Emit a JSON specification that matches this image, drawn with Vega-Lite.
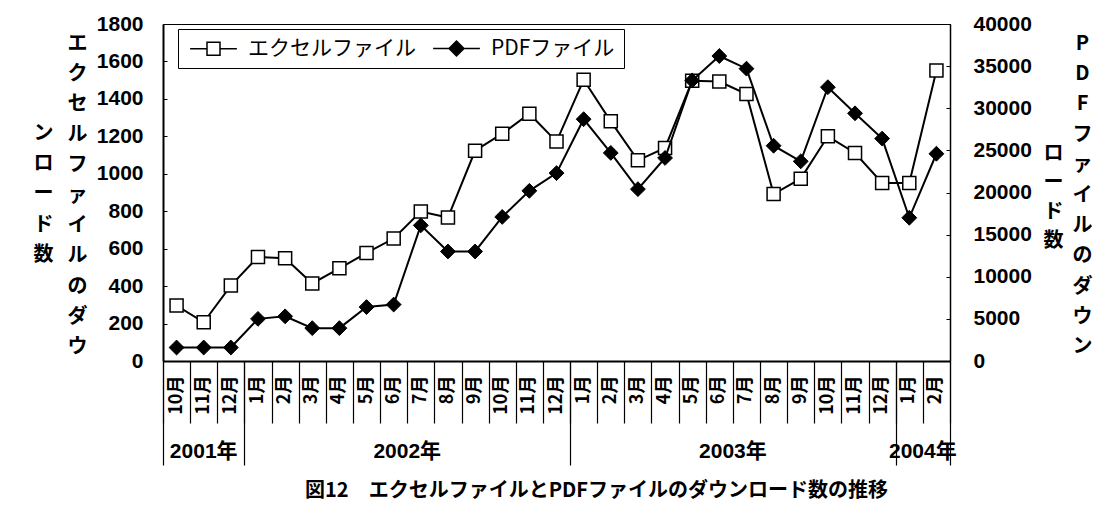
{
  "$schema": "https://vega.github.io/schema/vega-lite/v6.json",
  "autosize": {"type": "none"},
  "padding": {"left": 163, "top": 24, "right": 169, "bottom": 147},
  "width": 787,
  "height": 337,
  "background": "white",
  "config": {
    "view": {"stroke": "black", "strokeWidth": 1},
    "font": "Noto Sans CJK JP",
    "axis": {"grid": false}
  },
  "title": {
    "text": "図12　エクセルファイルとPDFファイルのダウンロード数の推移",
    "orient": "bottom",
    "anchor": "middle",
    "frame": "group",
    "offset": 15,
    "dx": 40,
    "font": "Noto Sans CJK JP",
    "fontSize": 20,
    "fontWeight": "bold",
    "color": "black",
    "baseline": "top"
  },
  "data": {
    "values": [
      {"month": "2001-10", "series": "エクセルファイル", "value": 296},
      {"month": "2001-11", "series": "エクセルファイル", "value": 207},
      {"month": "2001-12", "series": "エクセルファイル", "value": 403},
      {"month": "2002-01", "series": "エクセルファイル", "value": 556},
      {"month": "2002-02", "series": "エクセルファイル", "value": 549},
      {"month": "2002-03", "series": "エクセルファイル", "value": 414},
      {"month": "2002-04", "series": "エクセルファイル", "value": 495},
      {"month": "2002-05", "series": "エクセルファイル", "value": 577},
      {"month": "2002-06", "series": "エクセルファイル", "value": 654},
      {"month": "2002-07", "series": "エクセルファイル", "value": 798},
      {"month": "2002-08", "series": "エクセルファイル", "value": 766},
      {"month": "2002-09", "series": "エクセルファイル", "value": 1123},
      {"month": "2002-10", "series": "エクセルファイル", "value": 1214},
      {"month": "2002-11", "series": "エクセルファイル", "value": 1321},
      {"month": "2002-12", "series": "エクセルファイル", "value": 1172},
      {"month": "2003-01", "series": "エクセルファイル", "value": 1502},
      {"month": "2003-02", "series": "エクセルファイル", "value": 1280},
      {"month": "2003-03", "series": "エクセルファイル", "value": 1072},
      {"month": "2003-04", "series": "エクセルファイル", "value": 1138},
      {"month": "2003-05", "series": "エクセルファイル", "value": 1497},
      {"month": "2003-06", "series": "エクセルファイル", "value": 1493},
      {"month": "2003-07", "series": "エクセルファイル", "value": 1426},
      {"month": "2003-08", "series": "エクセルファイル", "value": 892},
      {"month": "2003-09", "series": "エクセルファイル", "value": 974},
      {"month": "2003-10", "series": "エクセルファイル", "value": 1200},
      {"month": "2003-11", "series": "エクセルファイル", "value": 1111},
      {"month": "2003-12", "series": "エクセルファイル", "value": 951},
      {"month": "2004-01", "series": "エクセルファイル", "value": 951},
      {"month": "2004-02", "series": "エクセルファイル", "value": 1552},
      {"month": "2001-10", "series": "PDFファイル", "value": 1600},
      {"month": "2001-11", "series": "PDFファイル", "value": 1600},
      {"month": "2001-12", "series": "PDFファイル", "value": 1600},
      {"month": "2002-01", "series": "PDFファイル", "value": 5000},
      {"month": "2002-02", "series": "PDFファイル", "value": 5300},
      {"month": "2002-03", "series": "PDFファイル", "value": 3900},
      {"month": "2002-04", "series": "PDFファイル", "value": 3900},
      {"month": "2002-05", "series": "PDFファイル", "value": 6400},
      {"month": "2002-06", "series": "PDFファイル", "value": 6700},
      {"month": "2002-07", "series": "PDFファイル", "value": 16100},
      {"month": "2002-08", "series": "PDFファイル", "value": 13000},
      {"month": "2002-09", "series": "PDFファイル", "value": 13000},
      {"month": "2002-10", "series": "PDFファイル", "value": 17100},
      {"month": "2002-11", "series": "PDFファイル", "value": 20200},
      {"month": "2002-12", "series": "PDFファイル", "value": 22300},
      {"month": "2003-01", "series": "PDFファイル", "value": 28700},
      {"month": "2003-02", "series": "PDFファイル", "value": 24700},
      {"month": "2003-03", "series": "PDFファイル", "value": 20400},
      {"month": "2003-04", "series": "PDFファイル", "value": 24100},
      {"month": "2003-05", "series": "PDFファイル", "value": 33300},
      {"month": "2003-06", "series": "PDFファイル", "value": 36200},
      {"month": "2003-07", "series": "PDFファイル", "value": 34700},
      {"month": "2003-08", "series": "PDFファイル", "value": 25550},
      {"month": "2003-09", "series": "PDFファイル", "value": 23700},
      {"month": "2003-10", "series": "PDFファイル", "value": 32500},
      {"month": "2003-11", "series": "PDFファイル", "value": 29400},
      {"month": "2003-12", "series": "PDFファイル", "value": 26400},
      {"month": "2004-01", "series": "PDFファイル", "value": 17000},
      {"month": "2004-02", "series": "PDFファイル", "value": 24600}
    ]
  },
  "layer": [
    {
      "resolve": {"scale": {"y": "shared"}, "axis": {"y": "independent", "x": "independent"}},
      "layer": [
        {
          "transform": [{"filter": {"field": "series", "equal": "エクセルファイル"}}],
          "mark": {"type": "line", "color": "black", "strokeWidth": 2},
          "encoding": {
            "x": {
              "field": "month", "type": "ordinal",
              "scale": {"type": "band", "paddingInner": 0, "paddingOuter": 0},
              "axis": {
                "title": null, "orient": "bottom", "ticks": false,
                "domain": true, "domainColor": "black", "domainWidth": 2,
                "labelAngle": -90, "labelAlign": "right", "labelBaseline": "middle",
                "labelPadding": 14,
                "labelExpr": "toNumber(slice(datum.value, 5)) + '月'",
                "labelFont": "Noto Sans CJK JP", "labelFontSize": 18, "labelFontWeight": "bold",
                "labelColor": "black", "labelOverlap": false, "labelFlush": false
              }
            },
            "y": {
              "field": "value", "type": "quantitative",
              "scale": {"domain": [0, 1800], "nice": false, "zero": true},
              "axis": {
                "orient": "left",
                "title": ["エ", "ク", "セ", "ル", "フ", "ァ", "イ", "ル", "の", "ダ", "ウ"],
                "titleAngle": 0, "titleAlign": "center", "titleBaseline": "middle",
                "titleX": -86, "titleY": 19, "titleLineHeight": 30.4,
                "titleFont": "Noto Sans CJK JP", "titleFontSize": 20, "titleFontWeight": "bold", "titleColor": "black",
                "values": [0, 200, 400, 600, 800, 1000, 1200, 1400, 1600, 1800],
                "format": "d",
                "tickSize": -4, "tickColor": "black", "tickWidth": 1,
                "labelPadding": 24, "labelFont": "Liberation Sans", "labelFontSize": 21, "labelFontWeight": "bold",
                "labelColor": "black", "labelOverlap": false, "labelFlush": false,
                "domainColor": "black", "domainWidth": 2
              }
            }
          }
        },
        {
          "transform": [{"filter": {"field": "series", "equal": "エクセルファイル"}}],
          "mark": {"type": "point", "shape": "square", "filled": true, "fill": "white", "stroke": "black", "strokeWidth": 1.5, "size": 170, "opacity": 1},
          "encoding": {
            "x": {
              "field": "month", "type": "ordinal",
              "scale": {"type": "band", "paddingInner": 0, "paddingOuter": 0},
              "axis": {
                "title": null, "orient": "bottom", "labels": false, "domain": false,
                "ticks": true, "tickBand": "extent", "tickColor": "black", "tickWidth": 1.2,
                "tickSize": 62
              }
            },
            "y": {
              "field": "value", "type": "quantitative",
              "scale": {"domain": [0, 1800], "nice": false, "zero": true},
              "axis": {
                "orient": "left",
                "title": ["ン", "ロ", "ー", "ド", "数"],
                "titleAngle": 0, "titleAlign": "center", "titleBaseline": "middle",
                "titleX": -120, "titleY": 109, "titleLineHeight": 30.4,
                "titleFont": "Noto Sans CJK JP", "titleFontSize": 20, "titleFontWeight": "bold", "titleColor": "black",
                "labels": false, "ticks": false, "domain": false
              }
            }
          }
        }
      ]
    },
    {
      "resolve": {"scale": {"y": "shared"}, "axis": {"y": "independent", "x": "independent"}},
      "layer": [
        {
          "transform": [{"filter": {"field": "series", "equal": "PDFファイル"}}],
          "mark": {"type": "line", "color": "black", "strokeWidth": 2},
          "encoding": {
            "x": {
              "field": "month", "type": "ordinal",
              "scale": {"type": "band", "paddingInner": 0, "paddingOuter": 0},
              "axis": {
                "title": null, "orient": "bottom", "ticks": false, "domain": false,
                "values": ["2001-11", "2002-07", "2003-07", "2004-02"],
                "labelExpr": "slice(datum.value, 0, 4) + '年'",
                "labelAngle": 0, "labelAlign": "center", "labelBaseline": "top",
                "labelPadding": 79,
                "labelOffset": {"condition": {"test": "datum.value == '2001-11'", "value": 0}, "value": -13.57},
                "labelFont": "Liberation Sans, Noto Sans CJK JP", "labelFontSize": 21, "labelFontWeight": "bold",
                "labelColor": "black", "labelOverlap": false, "labelFlush": false
              }
            },
            "y": {
              "field": "value", "type": "quantitative",
              "scale": {"domain": [0, 40000], "nice": false, "zero": true},
              "axis": {
                "orient": "right",
                "title": ["P", "D", "F", "フ", "ァ", "イ", "ル", "の", "ダ", "ウ", "ン"],
                "titleAngle": 0, "titleAlign": "center", "titleBaseline": "middle",
                "titleX": 132, "titleY": 19, "titleLineHeight": 30.4,
                "titleFont": "Noto Sans CJK JP", "titleFontSize": 20, "titleFontWeight": "bold", "titleColor": "black",
                "values": [0, 5000, 10000, 15000, 20000, 25000, 30000, 35000, 40000],
                "format": "d",
                "tickSize": -4, "tickColor": "black", "tickWidth": 1,
                "labelPadding": 27, "labelFont": "Liberation Sans", "labelFontSize": 21, "labelFontWeight": "bold",
                "labelColor": "black", "labelOverlap": false, "labelFlush": false,
                "domainColor": "black", "domainWidth": 1.5
              }
            }
          }
        },
        {
          "transform": [{"filter": {"field": "series", "equal": "PDFファイル"}}],
          "mark": {"type": "point", "shape": "diamond", "filled": true, "fill": "black", "stroke": "black", "strokeWidth": 1, "size": 220, "opacity": 1},
          "encoding": {
            "x": {
              "field": "month", "type": "ordinal",
              "scale": {"type": "band", "paddingInner": 0, "paddingOuter": 0},
              "axis": {
                "title": null, "orient": "bottom", "labels": false, "domain": false,
                "ticks": true, "tickBand": "extent", "tickColor": "black", "tickWidth": 1.2,
                "tickSize": 104,
                "tickOpacity": {"condition": {"test": "!datum.value || indexof(['2001-12','2002-12','2003-12','2004-02'], datum.value) >= 0", "value": 1}, "value": 0}
              }
            },
            "y": {
              "field": "value", "type": "quantitative",
              "scale": {"domain": [0, 40000], "nice": false, "zero": true},
              "axis": {
                "orient": "right",
                "title": ["ロ", "ー", "ド", "数"],
                "titleAngle": 0, "titleAlign": "center", "titleBaseline": "middle",
                "titleX": 103, "titleY": 129, "titleLineHeight": 29,
                "titleFont": "Noto Sans CJK JP", "titleFontSize": 20, "titleFontWeight": "bold", "titleColor": "black",
                "labels": false, "ticks": false, "domain": false
              }
            }
          }
        }
      ]
    },
    {
      "mark": {"type": "point", "filled": true, "strokeWidth": 1.5, "size": 169, "opacity": 0},
      "encoding": {
        "x": {
          "field": "month", "type": "ordinal",
          "scale": {"type": "band", "paddingInner": 0, "paddingOuter": 0},
          "axis": null
        },
        "shape": {
          "field": "series", "type": "nominal",
          "scale": {"domain": ["エクセルファイル", "PDFファイル"], "range": ["M-3.6,0H-1M1,0H3.6M-1,-1H1V1H-1Z", "M-3.6,0H3.6M0,-1.15L1.15,0L0,1.15L-1.15,0Z"]},
          "legend": {
            "orient": "none", "legendX": 15, "legendY": 5, "direction": "horizontal",
            "title": null, "symbolSize": 169, "symbolStrokeWidth": 1.5,
            "symbolOpacity": 1, "symbolOffset": 16,
            "labelFont": "Noto Sans CJK JP", "labelFontSize": 21, "labelColor": "black",
            "labelLimit": 400, "labelOffset": 24, "columnPadding": 14, "padding": 9,
            "strokeColor": "black", "fillColor": "white"
          }
        },
        "fill": {
          "field": "series", "type": "nominal",
          "scale": {"domain": ["エクセルファイル", "PDFファイル"], "range": ["white", "black"]},
          "legend": {
            "orient": "none", "legendX": 15, "legendY": 5, "direction": "horizontal",
            "title": null, "symbolSize": 169, "symbolStrokeWidth": 1.5,
            "symbolOpacity": 1, "symbolOffset": 16,
            "labelFont": "Noto Sans CJK JP", "labelFontSize": 21, "labelColor": "black",
            "labelLimit": 400, "labelOffset": 24, "columnPadding": 14, "padding": 9,
            "strokeColor": "black", "fillColor": "white"
          }
        },
        "stroke": {
          "field": "series", "type": "nominal",
          "scale": {"domain": ["エクセルファイル", "PDFファイル"], "range": ["black", "black"]},
          "legend": {
            "orient": "none", "legendX": 15, "legendY": 5, "direction": "horizontal",
            "title": null, "symbolSize": 169, "symbolStrokeWidth": 1.5,
            "symbolOpacity": 1, "symbolOffset": 16,
            "labelFont": "Noto Sans CJK JP", "labelFontSize": 21, "labelColor": "black",
            "labelLimit": 400, "labelOffset": 24, "columnPadding": 14, "padding": 9,
            "strokeColor": "black", "fillColor": "white"
          }
        }
      }
    }
  ],
  "resolve": {"scale": {"y": "independent"}, "axis": {"y": "independent", "x": "independent"}}
}
